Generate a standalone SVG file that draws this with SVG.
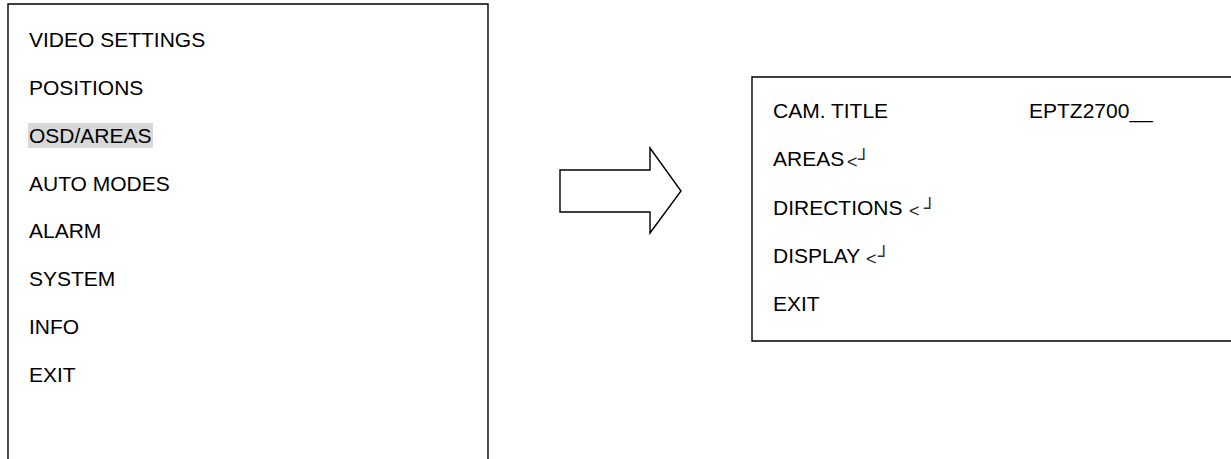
<svg xmlns="http://www.w3.org/2000/svg" width="1231" height="459" viewBox="0 0 1231 459">
<style>
.frame{fill:none;stroke:#000;stroke-width:1.4}
.t{font-family:"Liberation Sans",Arial,sans-serif;font-size:21px;fill:#000}
.s{font-family:"Liberation Sans",Arial,sans-serif;font-size:18px;fill:#222}
.b{font-family:"DejaVu Sans",sans-serif;font-size:19px;fill:#333}
</style>
<rect width="1231" height="459" fill="#fff"/>
<g id="main-menu">
<path class="frame" d="M8,462 V4 H488 V462"/>
<rect x="28" y="123" width="125" height="25" fill="#d9d9d9"/>
<text class="t" x="29" y="47">VIDEO SETTINGS</text>
<text class="t" x="29" y="95">POSITIONS</text>
<text class="t" x="29" y="143">OSD/AREAS</text>
<text class="t" x="29" y="191">AUTO MODES</text>
<text class="t" x="29" y="238">ALARM</text>
<text class="t" x="29" y="286">SYSTEM</text>
<text class="t" x="29" y="334">INFO</text>
<text class="t" x="29" y="382">EXIT</text>
</g>
<g id="connectors">
<polygon class="frame" points="560,170 650,170 650,148 681,191 650,233 650,212 560,212"/>
</g>
<g id="osd-menu">
<path class="frame" d="M1240,77 H752 V341 H1240"/>
<text class="t" x="773" y="118">CAM. TITLE</text>
<text class="t" x="1029" y="118">EPTZ2700__</text>
<text class="t" x="773" y="166">AREAS</text>
<text class="s" x="847" y="168">&lt;</text>
<text class="b" x="858" y="166">┘</text>
<text class="t" x="773" y="215">DIRECTIONS</text>
<text class="s" x="909" y="217">&lt;</text>
<text class="b" x="924" y="215">┘</text>
<text class="t" x="773" y="263">DISPLAY</text>
<text class="s" x="866" y="265">&lt;</text>
<text class="b" x="878" y="263">┘</text>
<text class="t" x="773" y="311">EXIT</text>
</g>
</svg>
